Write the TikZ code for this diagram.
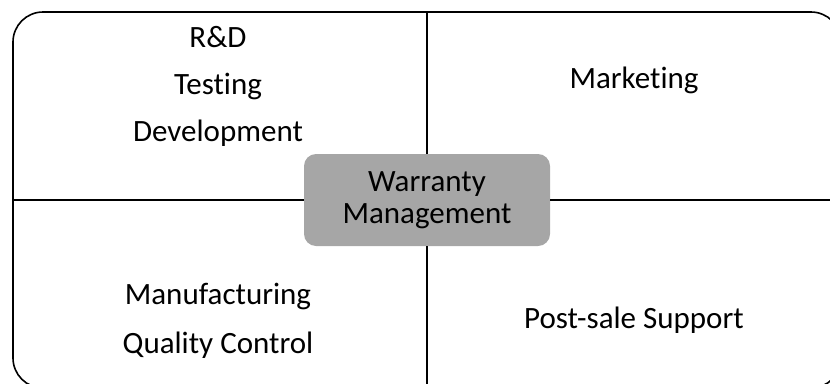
\documentclass[tikz,border=0pt]{standalone}
\usepackage{fontspec}
\setmainfont[Ligatures={NoCommon}]{Carlito}
\usepackage{tikz}
\usetikzlibrary{positioning, calc}
\usepackage{xcolor}
\definecolor{wm-gray}{HTML}{A6A6A6}

\begin{document}
\begin{tikzpicture}[x=1pt, y=-1pt,
	frame/.style={draw, line width=1.6pt, rounded corners=30pt, minimum width=828pt, minimum height=376pt, inner sep=0pt},
	hub/.style={fill=wm-gray, rounded corners=12pt, minimum width=246pt, minimum height=92pt, inner sep=0pt, align=center, font=\fontsize{31}{32}\selectfont},
	area/.style={align=center, inner sep=0pt, font=\fontsize{31}{47}\selectfont}]
							\useasboundingbox (0,0) rectangle (830,383);
							\clip (0,0) rectangle (830,383);
							\node[frame] (frame) at (427,200) {};
							\node[hub] (wm) at (427,200) {Warranty\\Management};
							\node[area] (rd) at (218,86) {R\&D\\Testing\\Development};
							\node[area, anchor=base] (mkt) at (634,88) {Marketing};
							\node[area, font=\fontsize{31}{49}\selectfont] (mfg) at (218,321) {Manufacturing\\Quality Control};
							\node[area, anchor=base] (post) at (634,328) {Post-sale Support};
							\draw
							(frame.north) edge[-, line width=1.4pt] (wm.north)
							(wm.south) edge[-, line width=1.4pt] (frame.south)
							(frame.west) edge[-, line width=1.4pt] (wm.west)
							(wm.east) edge[-, line width=1.4pt] (frame.east);
						\end{tikzpicture}
\end{document}
